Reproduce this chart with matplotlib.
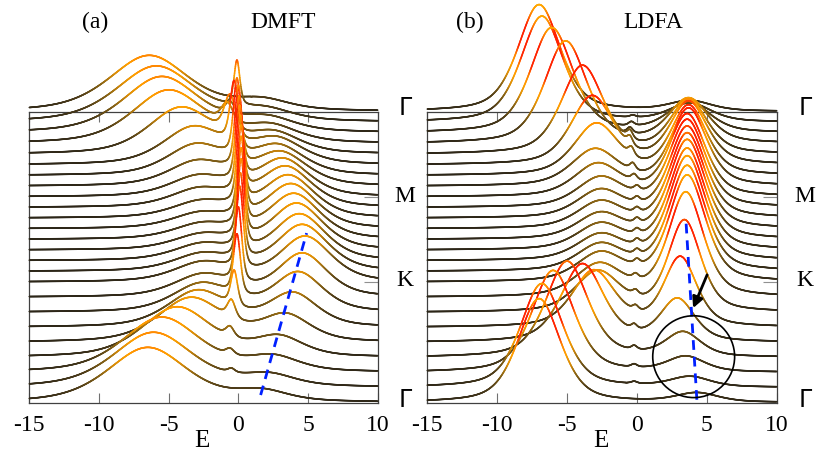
import numpy as np
import matplotlib
matplotlib.use("Agg")
import matplotlib.pyplot as plt
from matplotlib.collections import LineCollection
from matplotlib.colors import LinearSegmentedColormap, Normalize
from matplotlib.patches import Ellipse

# ---- data: peaks of A(k,E) for the 25 k-points, from bottom Gamma (k=0) to top Gamma (k=24)
# panel (a) DMFT
a_lhb_pos = [-6.5, -6.1, -5.5, -4.4, -3.4, -2.9, -2.6, -2.5, -2.5, -2.5, -2.5, -2.5, -2.5,
             -2.6, -2.6, -2.7, -2.8, -2.9, -3.0, -3.2, -4.1, -5.0, -5.5, -5.9, -6.4]
a_lhb_hgt = [55, 55, 55, 50, 44, 36, 28, 22, 19, 17, 16, 15, 15,
             15, 16, 18, 20, 24, 30, 37, 46, 53, 56, 56, 56]
a_lhb_wid = [3.4, 3.4, 3.3, 3.0, 2.8, 2.6, 2.5, 2.5, 2.5, 2.5, 2.5, 2.5, 2.5,
             2.5, 2.5, 2.5, 2.5, 2.5, 2.5, 2.6, 2.8, 3.1, 3.3, 3.4, 3.4]
a_qp_pos = [0.0, -0.5, -0.6, -0.6, -0.5, -0.3, -0.1, 0.0, 0.1, 0.15, 0.2, 0.2, 0.2,
            0.2, 0.15, 0.1, 0.05, 0.0, -0.1, -0.3, -0.6, -0.8, -0.6, -0.1, 0.0]
a_qp_hgt = [0, 4, 6, 10, 18, 35, 60, 75, 82, 85, 88, 88, 88,
            88, 86, 84, 82, 80, 75, 60, 37, 20, 12, 45, 0]
a_qp_wid = [0.3, 0.3, 0.35, 0.35, 0.35, 0.3, 0.3, 0.3, 0.3, 0.3, 0.3, 0.3, 0.3,
            0.3, 0.3, 0.3, 0.3, 0.3, 0.3, 0.35, 0.5, 0.5, 0.4, 0.25, 0.3]
a_ub_pos = [1.7, 2.2, 2.5, 2.9, 3.4, 3.9, 4.3, 4.6, 4.8, 4.6, 4.4, 4.2, 4.0,
            3.8, 3.6, 3.4, 3.2, 3.0, 2.8, 2.7, 2.5, 2.3, 2.1, 1.9, 1.7]
a_ub_hgt = [10, 11, 14, 19, 26, 33, 39, 43, 45, 46, 46, 46, 45,
            44, 42, 40, 37, 33, 29, 25, 20, 16, 13, 11, 10]
a_ub_wid = [2.2, 2.2, 2.2, 2.1, 2.1, 2.1, 2.1, 2.1, 2.2, 2.2, 2.2, 2.2, 2.2,
            2.2, 2.2, 2.2, 2.2, 2.3, 2.3, 2.3, 2.3, 2.3, 2.3, 2.3, 2.3]

# panel (b) LDFA
b_lhb_pos = [-7.0, -6.8, -6.0, -5.0, -3.9, -3.1, -2.8, -2.7, -2.6, -2.6, -2.6, -2.6, -2.6,
             -2.6, -2.6, -2.6, -2.8, -3.0, -2.9, -3.2, -3.9, -5.1, -6.1, -6.8, -7.0]
b_lhb_hgt = [104, 104, 102, 96, 78, 56, 40, 32, 28, 26, 25, 25, 25,
             26, 27, 29, 32, 36, 51, 68, 88, 102, 105, 106, 107]
b_lhb_wid = [1.8, 1.8, 1.8, 1.8, 1.8, 1.8, 1.9, 2.0, 2.0, 2.0, 2.0, 2.0, 2.0,
             2.0, 2.0, 2.0, 2.0, 2.0, 1.9, 1.8, 1.8, 1.8, 1.8, 1.8, 1.8]
b_mid_pos = [-0.2, -0.2, -0.2, -0.2, -0.2, -0.1, -0.1, -0.1, 0.0, 0.0, 0.0, 0.0, 0.0,
             0.0, 0.0, 0.0, -0.2, -0.3, -0.4, -0.5, -0.5, -0.5, -0.4, -0.3, -0.2]
b_mid_hgt = [0, 2, 3, 4, 5, 5, 5, 5, 5, 5, 5, 5, 5,
             5, 5, 5, 6, 7, 8, 8, 8, 6, 4, 2, 0]
b_ub_pos = [4.3, 3.8, 3.5, 3.3, 2.9, 3.1, 3.4, 3.5, 3.6, 3.6, 3.6, 3.6, 3.6,
            3.6, 3.6, 3.6, 3.6, 3.7, 3.7, 3.7, 3.7, 3.7, 3.7, 3.8, 3.8]
b_ub_hgt = [9, 10, 15, 24, 42, 69, 91, 104, 106, 105, 104, 101, 99,
            95, 91, 87, 82, 77, 69, 62, 53, 44, 30, 18, 10]
b_ub_wid = [1.8, 1.7, 1.6, 1.5, 1.45, 1.4, 1.4, 1.5, 1.55, 1.55, 1.55, 1.55, 1.55,
            1.55, 1.55, 1.55, 1.55, 1.55, 1.55, 1.6, 1.6, 1.7, 1.8, 1.8, 1.8]

# guide lines / annotations
a_guide_E = [1.6, 4.9]
a_guide_y = [0.09, 1.99]
b_guide_E = [3.52, 4.30]
b_guide_y = [2.10, 0.0]

segments = [np.sqrt(2), 1.0, 1.0]   # Gamma-K, K-M, M-Gamma
npts_seg = 8
klabels = ["\u0393", "K", "M", "\u0393"]

# ---- helpers
def peak(E, c, h, w):
    x = (E - c) / w
    return h * (0.5 * np.exp(-np.log(2) * x * x) + 0.5 / (1 + x * x))

kd = [0.0]
for s in segments:
    kd += list(kd[-1] + s * np.arange(1, npts_seg + 1) / npts_seg)
kd = np.array(kd)
ktick = np.cumsum([0] + segments)
scale = 1 / 85.24

cmap = LinearSegmentedColormap.from_list("spec", [
    (0.00, "#2b2518"), (15 / 110, "#4e3c18"), (28 / 110, "#8a6414"),
    (38 / 110, "#d88c08"), (48 / 110, "#ffa000"), (58 / 110, "#ff8400"),
    (66 / 110, "#ff2800"), (88 / 110, "#ff2000"), (96 / 110, "#ff7000"),
    (102 / 110, "#ff9800"), (1.00, "#ffb400")])
norm = Normalize(0, 110)

E = np.linspace(-15, 10, 1201)

def draw_panel(ax, spectra):
    for i in range(len(spectra) - 1, -1, -1):
        A = spectra[i]
        y = kd[i] + A * scale
        pts = np.column_stack([E, y]).reshape(-1, 1, 2)
        seg = np.concatenate([pts[:-1], pts[1:]], axis=1)
        lc = LineCollection(seg, cmap=cmap, norm=norm, linewidths=1.15,
                            clip_on=False, zorder=3, capstyle="round")
        lc.set_array(0.5 * (A[:-1] + A[1:]))
        ax.add_collection(lc)
    ax.set_xlim(-15, 10)
    ax.set_ylim(0, ktick[-1])
    ax.set_xticks([-15, -10, -5, 0, 5, 10])
    ax.set_xticklabels(["-15", "-10", "-5", "0", "5", "10"])
    ax.tick_params(axis="x", direction="in", top=True, length=7, width=0.8,
                   color="#707070", labelsize=17, pad=9)
    ax.set_yticks(ktick[1:3])
    ax.tick_params(axis="y", direction="in", left=False, right=True, labelleft=False,
                   length=10, width=0.8, color="#909090")
    for sp in ax.spines.values():
        sp.set_color("#404040")
        sp.set_linewidth(0.9)

spec_a = [peak(E, a_lhb_pos[i], a_lhb_hgt[i], a_lhb_wid[i])
          + peak(E, a_qp_pos[i], a_qp_hgt[i], a_qp_wid[i])
          + peak(E, a_ub_pos[i], a_ub_hgt[i], a_ub_wid[i]) for i in range(len(kd))]
spec_b = [peak(E, b_lhb_pos[i], b_lhb_hgt[i], b_lhb_wid[i])
          + peak(E, b_mid_pos[i], b_mid_hgt[i], 0.25)
          + peak(E, b_ub_pos[i], b_ub_hgt[i], b_ub_wid[i]) for i in range(len(kd))]

plt.rcParams["font.family"] = ["Liberation Serif", "DejaVu Serif"]
fig = plt.figure(figsize=(8.29, 4.63), dpi=100)
W, H = 829, 463
ax1 = fig.add_axes([29.3 / W, 1 - 402.7 / H, 348.4 / W, 291 / H])
ax2 = fig.add_axes([427.3 / W, 1 - 402.7 / H, 349.4 / W, 291 / H])
draw_panel(ax1, spec_a)
draw_panel(ax2, spec_b)

ax1.plot(a_guide_E, a_guide_y, color="#0020ff", lw=2, ls=(0, (3.5, 2.5)), zorder=4, clip_on=False)
ax2.plot(b_guide_E, b_guide_y, color="#0020ff", lw=2, ls=(0, (3.5, 2.5)), zorder=4, clip_on=False)
ax2.add_patch(Ellipse((4.06, 0.54), 5.86, 0.96, fill=False, ec="black", lw=1.2, zorder=5))
ax2.annotate("", xy=(4.02, 1.11), xytext=(5.02, 1.50),
             arrowprops=dict(arrowstyle="-|>", color="black", lw=2, mutation_scale=16,
                             shrinkA=0, shrinkB=0), zorder=5)

for x0, tag, name, nx in [(95, "(a)", "DMFT", 283), (470, "(b)", "LDFA", 653)]:
    fig.text(x0 / W, 1 - 22 / H, tag, ha="center", va="center", fontsize=17)
    fig.text(nx / W, 1 - 22 / H, name, ha="center", va="center", fontsize=17)
for xl, xe in [(405, 202), (805, 601)]:
    fig.text(xe / W, 1 - 441 / H, "E", ha="center", va="center", fontsize=18)
    for lab, yp in zip(klabels, [400, 280, 196, 108]):
        fam = ["DejaVu Sans"] if lab == "\u0393" else ["Liberation Serif"]
        fig.text(xl / W, 1 - yp / H, lab, ha="center", va="center", fontsize=17,
                 family=fam)

fig.savefig("out.png", dpi=100)
